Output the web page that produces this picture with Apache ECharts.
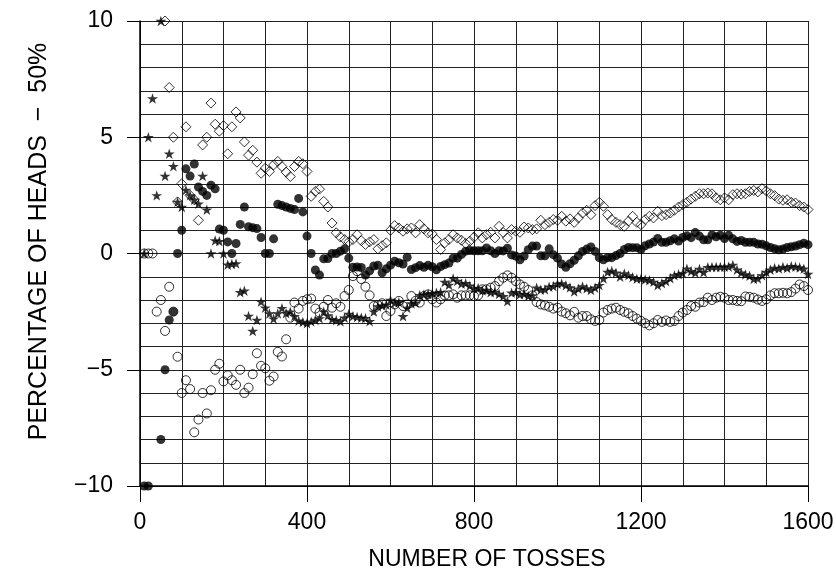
<!DOCTYPE html>
<html>
<head>
<meta charset="utf-8">
<script src="https://cdn.jsdelivr.net/npm/echarts@6/dist/echarts.min.js"></script>
<style>
html,body{margin:0;padding:0;background:#fff;}
#chart{width:836px;height:581px;}
</style>
</head>
<body>
<div id="chart"></div>
<script>
const tosses = [10,20,30,40,50,60,70,80,90,100,110,120,130,140,150,160,170,180,190,200,
210,220,230,240,250,260,270,280,290,300,310,320,330,340,350,360,370,380,390,400,
410,420,430,440,450,460,470,480,490,500,510,520,530,540,550,560,570,580,590,600,
610,620,630,640,650,660,670,680,690,700,710,720,730,740,750,760,770,780,790,800,
810,820,830,840,850,860,870,880,890,900,910,920,930,940,950,960,970,980,990,1000,
1010,1020,1030,1040,1050,1060,1070,1080,1090,1100,1110,1120,1130,1140,1150,1160,1170,1180,1190,1200,
1210,1220,1230,1240,1250,1260,1270,1280,1290,1300,1310,1320,1330,1340,1350,1360,1370,1380,1390,1400,
1410,1420,1430,1440,1450,1460,1470,1480,1490,1500,1510,1520,1530,1540,1550,1560,1570,1580,1590,1600];

const xTicks = [0, 400, 800, 1200, 1600];
const yTicks = [-10, -5, 0, 5, 10];

const diamondRun = [20,15,13.33,12.5,12,10,7.14,5.0,2.22,3.0,
5.45,2.5,2.31,1.43,4.67,5.0,6.47,5.56,5.26,5.5,
4.29,5.45,6.09,5.83,4.8,4.23,4.44,3.93,3.45,3.67,
3.53,3.81,3.96,3.74,3.5,3.31,3.74,3.96,3.86,3.53,
2.46,2.67,2.77,2.24,2.0,1.31,0.89,0.71,0.6,0.5,
0.6,0.81,0.55,0.39,0.5,0.6,0.2,0.34,0.46,1.0,
1.2,1.1,0.96,1.06,1.1,0.89,1.24,1.06,0.89,0.84,
0.6,0.17,0.46,0.6,0.81,0.67,0.57,0.43,0.53,0.7,
0.89,0.67,0.81,0.91,0.67,1.17,0.9,0.67,1.03,0.96,
0.91,1.14,1.1,1.03,1.06,1.43,1.24,1.34,1.46,1.43,
1.6,1.39,1.49,1.34,1.53,1.74,1.86,1.67,2.06,2.2,
2.03,1.67,1.46,1.34,1.24,1.17,1.39,1.6,1.34,1.24,
1.46,1.6,1.53,1.81,1.63,1.67,1.74,1.86,2.0,2.1,
2.2,2.34,2.46,2.57,2.57,2.6,2.57,2.39,2.31,2.39,
2.31,2.53,2.57,2.55,2.57,2.67,2.71,2.65,2.79,2.69,
2.57,2.49,2.34,2.29,2.31,2.2,2.17,2.06,2.0,1.89];

const filledRun = [-10,-10,-13.33,-12.5,-8,-5,-2.86,-2.5,0,1.0,
3.64,3.33,3.85,2.86,2.67,2.5,2.94,2.78,1.05,1.0,
0.5,0,0.43,1.25,2.0,1.15,1.11,1.07,0.69,0,
0,0.63,2.12,2.06,2.0,1.94,1.89,2.37,1.79,0.75,
0,-0.71,-0.93,-0.23,-0.22,0,0,0.1,0.2,-0.2,
-0.59,-0.58,-0.6,-0.93,-0.75,-0.54,-0.51,-0.83,-0.66,-0.5,
-0.33,-0.4,-0.45,-0.16,-0.69,-0.61,-0.52,-0.59,-0.51,-0.57,
-0.7,-0.56,-0.48,-0.41,-0.2,-0.2,-0.04,0.1,0.13,0.12,
0.12,0.12,0.24,0.12,0.0,0.12,0.11,0.23,-0.06,-0.11,
-0.27,-0.11,0.16,0.32,0.32,-0.1,-0.1,0.2,-0.05,-0.2,
-0.45,-0.59,-0.44,-0.29,-0.1,0.09,0.19,0.28,0.09,-0.18,
-0.27,-0.18,-0.18,-0.09,0.0,0.17,0.26,0.25,0.25,0.17,
0.33,0.41,0.49,0.65,0.48,0.48,0.55,0.63,0.54,0.69,
0.76,0.68,0.9,0.75,0.59,0.59,0.8,0.72,0.79,0.64,
0.78,0.63,0.52,0.56,0.48,0.48,0.48,0.41,0.4,0.33,
0.26,0.2,0.16,0.19,0.26,0.29,0.32,0.38,0.44,0.38];

const starRun = [0,5,6.67,2.5,10,3.33,4.29,3.75,2.22,2.0,
2.73,2.5,2.31,2.14,3.33,1.88,0,0.56,0.53,0,
-0.48,-0.45,-0.43,-1.67,-1.6,-2.69,-3.33,-2.86,-2.07,-2.33,
-2.58,-2.81,-2.58,-2.35,-2.57,-2.5,-2.7,-2.89,-2.95,-3.0,
-2.93,-2.86,-2.79,-2.5,-2.67,-2.83,-2.87,-2.92,-2.76,-2.6,
-2.7,-2.73,-2.76,-2.78,-2.91,-2.5,-2.28,-2.24,-2.2,-2.0,
-2.13,-2.1,-2.7,-2.34,-2.15,-2.12,-1.79,-1.76,-1.74,-1.71,
-1.69,-1.67,-1.23,-1.35,-1.07,-1.18,-1.3,-1.28,-1.39,-1.5,
-1.48,-1.59,-1.57,-1.67,-1.65,-1.74,-1.84,-2.05,-1.69,-1.67,
-1.76,-1.74,-1.83,-1.81,-1.47,-1.56,-1.55,-1.43,-1.41,-1.3,
-1.29,-1.37,-1.46,-1.63,-1.52,-1.42,-1.5,-1.57,-1.47,-1.36,
-1.08,-0.8,-0.75,-0.83,-1.0,-0.86,-0.94,-1.02,-1.09,-1.08,
-1.12,-1.15,-1.22,-1.37,-1.28,-1.19,-1.06,-0.94,-0.89,-0.85,
-0.65,-0.76,-0.83,-0.67,-0.81,-0.59,-0.58,-0.58,-0.58,-0.57,
-0.57,-0.49,-0.7,-0.83,-0.9,-0.96,-1.1,-1.08,-0.94,-0.8,
-0.7,-0.62,-0.65,-0.58,-0.62,-0.55,-0.57,-0.6,-0.66,-0.88];

const circleRun = [0,0,0,-2.5,-2.0,-3.33,-1.43,-2.5,-4.44,-6.0,
-5.45,-5.83,-7.69,-7.14,-6.0,-6.88,-5.88,-5.0,-4.74,-5.5,
-5.24,-5.45,-5.65,-5.0,-6.0,-5.77,-5.19,-4.29,-4.83,-4.94,
-5.47,-5.29,-4.23,-4.43,-3.69,-2.76,-2.11,-2.37,-2.04,-1.97,
-1.94,-2.37,-2.54,-2.29,-2.0,-2.33,-2.14,-2.29,-1.83,-1.57,
-0.97,-0.76,-1.1,-1.43,-1.8,-2.26,-2.23,-2.14,-2.69,-2.47,
-2.19,-2.04,-2.26,-2.19,-1.83,-2.04,-2.11,-1.83,-1.76,-1.97,
-2.11,-1.97,-1.8,-1.8,-1.76,-1.9,-1.8,-1.8,-1.8,-1.83,
-1.8,-1.54,-1.54,-1.47,-1.4,-1.19,-1.04,-0.94,-1.04,-1.19,
-1.33,-1.43,-1.57,-1.8,-2.09,-2.19,-2.23,-2.29,-2.37,-2.33,
-2.5,-2.57,-2.66,-2.51,-2.76,-2.69,-2.69,-2.83,-2.9,-2.86,
-2.54,-2.43,-2.37,-2.33,-2.43,-2.51,-2.57,-2.69,-2.8,-2.9,
-3.0,-3.09,-3.0,-2.86,-2.94,-2.88,-2.94,-2.9,-2.69,-2.54,
-2.43,-2.26,-2.29,-2.11,-2.09,-1.9,-2.0,-1.9,-1.86,-1.9,
-2.0,-2.0,-2.04,-2.05,-1.85,-1.87,-1.9,-1.98,-2.04,-1.97,
-1.8,-1.71,-1.71,-1.69,-1.71,-1.66,-1.51,-1.33,-1.4,-1.57];

const xTitle = 'NUMBER OF TOSSES';
const yTitle = 'PERCENTAGE OF HEADS  \u2212  50%';

const STAR = 'path://M100 0 L122.34 69.26 L195.1 69.1 L136.14 111.74 L158.8 180.9 L100 138 L41.2 180.9 L63.86 111.74 L4.9 69.1 L77.66 69.26 Z';

function pairs(vals) { return tosses.map((t, i) => [t, vals[i]]); }

const gridColor = '#222';
const sans = '"Liberation Sans", Arial, sans-serif';

const chart = echarts.init(document.getElementById('chart'), null, {renderer: 'canvas'});
chart.setOption({
  animation: false,
  backgroundColor: '#ffffff',
  grid: {left: 140, right: 28, top: 21, bottom: 95, containLabel: false, outerBoundsMode: 'none'},
  xAxis: {
    type: 'value', min: xTicks[0], max: xTicks[xTicks.length - 1], interval: 400,
    axisLine: {show: true, onZero: false, lineStyle: {color: '#000', width: 1.5}},
    axisTick: {show: true, inside: false, length: 16, lineStyle: {color: '#000', width: 1}},
    minorTick: {show: false, splitNumber: 4},
    minorSplitLine: {show: true, lineStyle: {color: gridColor, width: 1}},
    splitLine: {show: true, lineStyle: {color: gridColor, width: 1}},
    axisLabel: {color: '#000', fontFamily: sans, fontSize: 23, margin: 25,
      formatter: v => String(v)},
    name: xTitle, nameLocation: 'middle', nameGap: 62,
    nameTextStyle: {color: '#000', fontFamily: sans, fontSize: 23, padding: [0, 0, 0, 26]}
  },
  yAxis: {
    type: 'value', min: yTicks[0], max: yTicks[yTicks.length - 1], interval: 5,
    axisLine: {show: true, onZero: false, lineStyle: {color: '#000', width: 1.5}},
    axisTick: {show: true, inside: false, length: 13, lineStyle: {color: '#000', width: 1}},
    minorTick: {show: false, splitNumber: 5},
    minorSplitLine: {show: true, lineStyle: {color: gridColor, width: 1}},
    splitLine: {show: true, lineStyle: {color: gridColor, width: 1}},
    axisLabel: {color: '#000', fontFamily: sans, fontSize: 23, margin: 27,
      formatter: v => (v < 0 ? '\u2212' + (-v) : String(v))},
    name: yTitle, nameLocation: 'middle', nameGap: 88,
    nameTextStyle: {color: '#000', fontFamily: sans, fontSize: 25, padding: [0, 0, 0, 24]}
  },
  series: [
    {type: 'scatter', name: 'circles', data: pairs(circleRun), symbol: 'circle', symbolSize: 9,
     clip: true, itemStyle: {color: 'rgba(255,255,255,0)', borderColor: '#000', borderWidth: 1}},
    {type: 'scatter', name: 'stars', data: pairs(starRun), symbol: STAR, symbolSize: 11, symbolKeepAspect: true,
     clip: true, itemStyle: {color: '#000'}},
    {type: 'scatter', name: 'diamonds', data: pairs(diamondRun), symbol: 'diamond', symbolSize: [10, 10],
     clip: true, itemStyle: {color: 'rgba(255,255,255,0)', borderColor: '#000', borderWidth: 1}},
    {type: 'scatter', name: 'filled', data: pairs(filledRun), symbol: 'circle', symbolSize: 9,
     clip: true, itemStyle: {color: '#000'}}
  ]
});
</script>
</body>
</html>
